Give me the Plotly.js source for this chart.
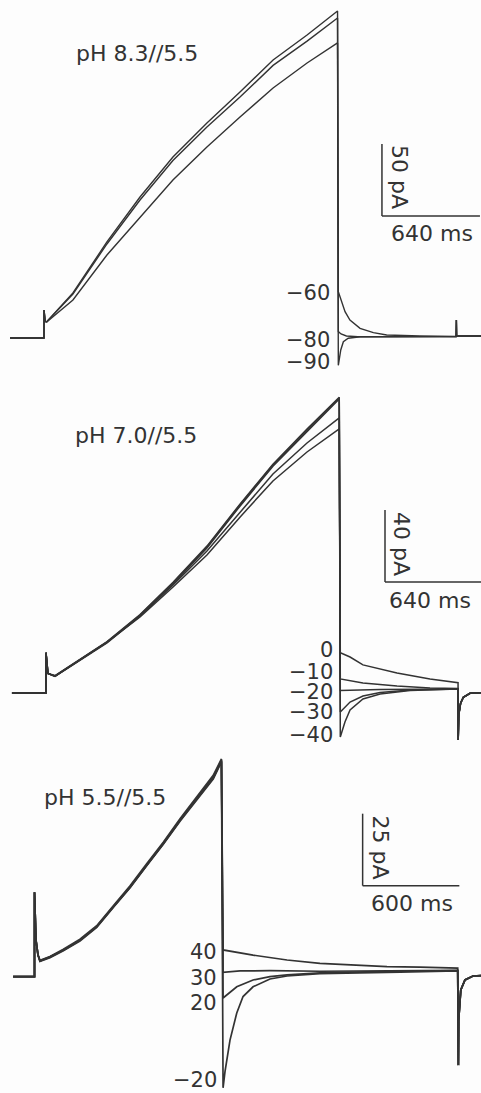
<!DOCTYPE html>
<html>
<head>
<meta charset="utf-8">
<script src="https://cdn.plot.ly/plotly-3.0.1.min.js"></script>
<style>
  html, body { margin: 0; padding: 0; background: #fdfdfd; }
  #chart { width: 481px; height: 1093px; }
</style>
</head>
<body>
<div id="chart"></div>
<script>
// Whole-cell currents during a depolarising ramp followed by tail steps.
// Time in ms, current in pA; three bath/pipette pH conditions.

// ---------- pH 8.3//5.5 ----------
const preT_83 = [-222, 0, 0, 8];
const preI_83 = [0, 0, 19.4, 11.5];
const rampT_83 = [18, 189, 411, 627, 842, 1064, 1280, 1496, 1718, 1917];
const rampA_83 = [11.3, 31.3, 66.7, 97.9, 125.7, 149.3, 170.8, 193.1, 210.4, 227.1];
const rampB_83 = [11.3, 30.5, 65.3, 95.8, 123.3, 146.5, 167.3, 189.3, 206.2, 222.2];
const rampC_83 = [11.1, 26.4, 57.6, 84.0, 109.7, 132.6, 153.5, 173.6, 191.0, 204.9];
const tailT_83_m60 = [1922, 1944, 1966, 1998, 2064, 2151, 2238, 2455, 2691];
const tailI_83_m60 = [32.2, 25.2, 18.3, 12.5, 6.7, 3.7, 2.1, 1.4, 1.0];
const tailT_83_m80 = [1922, 1940, 1975, 2050, 2691];
const tailI_83_m80 = [4.4, 2.8, 1.4, 0.9, 1.0];
const tailT_83_m90 = [1922, 1938, 1955, 1987, 2064, 2691];
const tailI_83_m90 = [-19.0, -8.3, -2.6, -0.2, 0.9, 1.0];
const postT_83 = [2693, 2695, 2860];
const postI_83 = [12.5, 1.4, 1.4];
const tailLabels_83 = ["\u221260", "\u221280", "\u221290"];

// ---------- pH 7.0//5.5 ----------
const preT_70 = [-227, 0, 0, 13];
const preI_70 = [0, 0, 22.4, 10.9];
const rampT_70 = [60, 180, 407, 627, 847, 1073, 1293, 1513, 1740, 1955];
const rampA1_70 = [9.4, 16.1, 28.3, 43.3, 61.1, 81.1, 104.4, 126.7, 146.1, 163.9];
const rampA2_70 = [9.2, 15.7, 27.8, 42.8, 60.6, 80.6, 103.8, 126.0, 145.4, 163.3];
const rampA3_70 = [9.7, 16.4, 28.6, 43.6, 61.5, 81.6, 104.9, 127.1, 146.6, 164.3];
const rampB_70 = [9.4, 16.1, 28.3, 42.8, 60.0, 78.9, 100.5, 121.7, 138.9, 152.8];
const rampC_70 = [9.4, 16.1, 28.3, 42.2, 58.9, 76.7, 97.7, 117.8, 133.9, 146.7];
const tailT_70_0 = [1962, 2027, 2113, 2340, 2560, 2747];
const tailI_70_0 = [22.4, 20.0, 15.6, 11.1, 7.8, 5.7];
const tailT_70_m10 = [1962, 2113, 2340, 2560, 2747];
const tailI_70_m10 = [7.8, 5.6, 3.9, 2.8, 2.5];
const tailT_70_m20 = [1962, 2227, 2747];
const tailI_70_m20 = [1.4, 1.9, 2.2];
const tailT_70_m30 = [1962, 2027, 2113, 2227, 2427, 2747];
const tailI_70_m30 = [-10.6, -5.0, -1.7, 0.3, 1.7, 2.2];
const tailT_70_m40 = [1962, 1993, 2027, 2113, 2227, 2427, 2747];
const tailI_70_m40 = [-24.4, -16.1, -9.4, -3.3, -0.6, 1.4, 2.2];
const postT_70 = [2748, 2752, 2764, 2782, 2827, 2900];
const postI_70 = [-26.1, -12.0, -5.7, -2.4, -0.2, 0.2];
const tailLabels_70 = ["0", "\u221210", "\u221220", "\u221230", "\u221240"];

// ---------- pH 5.5//5.5 ----------
const preT_55 = [-133, 0, 0, 9.3, 21.7];
const preI_55 = [0, 0, 29.3, 12.7, 7.5];
const rampT_55 = [34, 96, 179, 282, 386, 489, 593, 696, 799, 903, 1006, 1109, 1160];
const ramp1_55 = [5.5, 6.8, 9.3, 12.7, 17.4, 24.3, 31.2, 38.8, 46.3, 54.4, 61.9, 69.4, 75.2];
const ramp2_55 = [5.3, 6.6, 9.0, 12.4, 17.1, 24.0, 30.9, 38.5, 46.0, 54.0, 61.3, 68.6, 74.6];
const ramp3_55 = [5.7, 7.0, 9.5, 13.0, 17.7, 24.6, 31.6, 39.2, 46.7, 54.8, 62.3, 69.9, 75.6];
const ramp4_55 = [5.4, 6.9, 9.2, 12.6, 17.3, 24.2, 31.0, 38.6, 46.1, 54.2, 61.6, 69.0, 74.9];
const tailT_55_40 = [1170, 1356, 1567, 1771, 1976, 2187, 2392, 2626];
const tailI_55_40 = [9.3, 7.5, 5.8, 4.65, 4.1, 3.5, 3.3, 3.0];
const tailT_55_30 = [1170, 1275, 1461, 1771, 2143, 2626];
const tailI_55_30 = [1.5, 2.0, 2.1, 1.9, 2.0, 2.2];
const tailT_55_20 = [1170, 1255, 1356, 1461, 1567, 1771, 2143, 2626];
const tailI_55_20 = [-7.4, -3.5, -1.15, 0, 0.6, 1.3, 1.8, 2.1];
const tailT_55_m20 = [1170, 1182, 1194, 1213, 1255, 1294, 1356, 1461, 1567, 1771, 2268, 2626];
const tailI_55_m20 = [-38.6, -33.0, -28.9, -22.0, -12.6, -6.9, -3.5, -0.8, 0.24, 1.1, 1.6, 2.0];
const postT_55 = [2630, 2632, 2645, 2671, 2721, 2775];
const postI_55 = [-30.7, -15.0, -4.6, -1.1, 0.24, 0.4];
const tailLabels_55 = ["40", "30", "20", "\u221220"];

// Calibration bars: [pA, ms]
const calib_83 = [50, 640];
const calib_70 = [40, 640];
const calib_55 = [25, 600];
const titles = ["pH 8.3//5.5", "pH 7.0//5.5", "pH 5.5//5.5"];

// ---------- page geometry ----------
const W = 481, H = 1093;
const INK = "#333333";
const FONT = "DejaVu Sans";
// per panel: pixel of t=0, ms per pixel, pixel of 0 pA, pA per pixel, vertical band
const geom = [
  { x0: 44,   msPx: 640 / 98,   y0: 338,   pAPx: 50 / 72, top: 0,   bottom: 372 },
  { x0: 46,   msPx: 640 / 96,   y0: 693,   pAPx: 40 / 72, top: 372, bottom: 740 },
  { x0: 34.5, msPx: 600 / 96.7, y0: 976.7, pAPx: 25 / 72, top: 740, bottom: H }
];

function sweep(pre, ramp, tail, post) {
  return {
    t: [].concat(pre[0], ramp[0], tail[0], post[0]),
    i: [].concat(pre[1], ramp[1], tail[1], post[1])
  };
}

const sweeps = [
  [
    sweep([preT_83, preI_83], [rampT_83, rampA_83], [tailT_83_m60, tailI_83_m60], [postT_83, postI_83]),
    sweep([preT_83, preI_83], [rampT_83, rampB_83], [tailT_83_m80, tailI_83_m80], [postT_83, postI_83]),
    sweep([preT_83, preI_83], [rampT_83, rampC_83], [tailT_83_m90, tailI_83_m90], [postT_83, postI_83])
  ],
  [
    sweep([preT_70, preI_70], [rampT_70, rampC_70], [tailT_70_0, tailI_70_0], [postT_70, postI_70]),
    sweep([preT_70, preI_70], [rampT_70, rampB_70], [tailT_70_m10, tailI_70_m10], [postT_70, postI_70]),
    sweep([preT_70, preI_70], [rampT_70, rampA3_70], [tailT_70_m20, tailI_70_m20], [postT_70, postI_70]),
    sweep([preT_70, preI_70], [rampT_70, rampA2_70], [tailT_70_m30, tailI_70_m30], [postT_70, postI_70]),
    sweep([preT_70, preI_70], [rampT_70, rampA1_70], [tailT_70_m40, tailI_70_m40], [postT_70, postI_70])
  ],
  [
    sweep([preT_55, preI_55], [rampT_55, ramp1_55], [tailT_55_40, tailI_55_40], [postT_55, postI_55]),
    sweep([preT_55, preI_55], [rampT_55, ramp2_55], [tailT_55_30, tailI_55_30], [postT_55, postI_55]),
    sweep([preT_55, preI_55], [rampT_55, ramp3_55], [tailT_55_20, tailI_55_20], [postT_55, postI_55]),
    sweep([preT_55, preI_55], [rampT_55, ramp4_55], [tailT_55_m20, tailI_55_m20], [postT_55, postI_55])
  ]
];

const widths = [1.4, 1.5, 1.7];
const data = [];
sweeps.forEach((group, p) => {
  const sfx = p === 0 ? "" : String(p + 1);
  group.forEach(s => {
    data.push({
      type: "scatter", mode: "lines",
      x: s.t, y: s.i,
      xaxis: "x" + sfx, yaxis: "y" + sfx,
      line: { color: INK, width: widths[p] },
      hoverinfo: "skip", showlegend: false
    });
  });
});

const layout = {
  width: W, height: H,
  margin: { l: 0, r: 0, t: 0, b: 0, pad: 0 },
  paper_bgcolor: "#fdfdfd", plot_bgcolor: "rgba(0,0,0,0)",
  showlegend: false,
  font: { family: FONT, color: INK },
  shapes: [], annotations: []
};

geom.forEach((g, p) => {
  const sfx = p === 0 ? "" : String(p + 1);
  layout["xaxis" + sfx] = {
    domain: [0, 1], anchor: "y" + sfx,
    range: [(0 - g.x0) * g.msPx, (W - g.x0) * g.msPx],
    visible: false, fixedrange: true
  };
  layout["yaxis" + sfx] = {
    domain: [1 - g.bottom / H, 1 - g.top / H], anchor: "x" + sfx,
    range: [(g.y0 - g.bottom) * g.pAPx, (g.y0 - g.top) * g.pAPx],
    visible: false, fixedrange: true
  };
});

// helpers to place text in page pixels
const px = x => x / W;
const py = y => 1 - y / H;
function note(text, x, y, opts) {
  layout.annotations.push(Object.assign({
    text: text, xref: "paper", yref: "paper", x: px(x), y: py(y),
    xanchor: "center", yanchor: "middle", showarrow: false, borderpad: 0,
    font: { family: FONT, size: 22, color: INK }
  }, opts || {}));
}

// condition titles
note(titles[0], 137, 53);
note(titles[1], 136, 435);
note(titles[2], 105, 797);

// tail potentials (mV)
const tailFont = { family: FONT, size: 21, color: INK };
[293, 340, 362].forEach((y, k) => note(tailLabels_83[k], 331, y, { xanchor: "right", font: tailFont }));
[650, 671.5, 691.5, 711.5, 735].forEach((y, k) => note(tailLabels_70[k], 334, y, { xanchor: "right", font: tailFont }));
[951.5, 978, 1002.5, 1080].forEach((y, k) => note(tailLabels_55[k], 217.5, y, { xanchor: "right", font: tailFont }));

// calibration bars, drawn in data units
const calibs = [calib_83, calib_70, calib_55];
const barCorner = [[2207, 84.7], [2260, 61.7], [2036, 31.6]];
calibs.forEach((c, p) => {
  const sfx = p === 0 ? "" : String(p + 1);
  const [t0, i0] = barCorner[p];
  const line = { color: INK, width: 1.5 };
  layout.shapes.push({ type: "line", xref: "x" + sfx, yref: "y" + sfx,
    x0: t0, x1: t0, y0: i0, y1: i0 + c[0], line: line });
  layout.shapes.push({ type: "line", xref: "x" + sfx, yref: "y" + sfx,
    x0: t0, x1: t0 + c[1], y0: i0, y1: i0, line: line });
});
note(calib_83[0] + " pA", 400, 177, { textangle: 90 });
note(calib_83[1] + " ms", 431.5, 233);
note(calib_70[0] + " pA", 402, 544, { textangle: 90 });
note(calib_70[1] + " ms", 430, 600);
note(calib_55[0] + " pA", 380, 847.5, { textangle: 90 });
note(calib_55[1] + " ms", 411.5, 903);

Plotly.newPlot("chart", data, layout, { displayModeBar: false, staticPlot: true });
</script>
</body>
</html>
